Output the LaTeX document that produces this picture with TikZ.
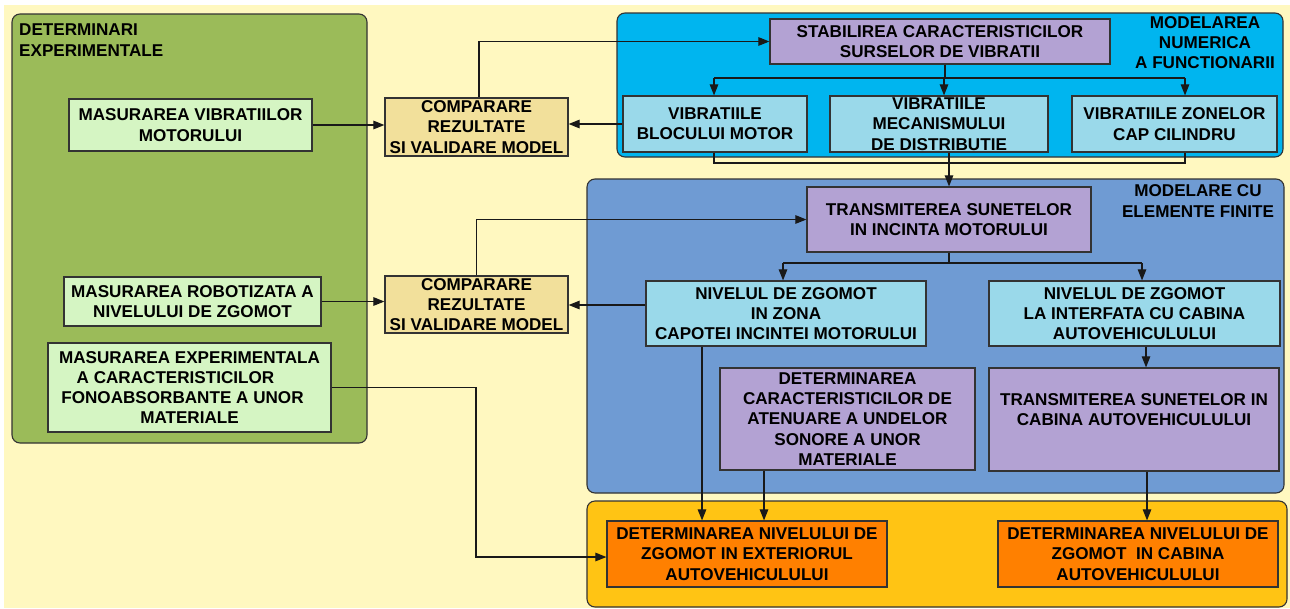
\documentclass[tikz,border=0pt]{standalone}
\usepackage{fontspec}
\setmainfont{Liberation Sans}
\usetikzlibrary{arrows.meta}
\definecolor{cream}{HTML}{FFF8C0}
\definecolor{olivepanel}{HTML}{9BBB59}
\definecolor{lightgreenbox}{HTML}{D5F5C3}
\definecolor{tanbox}{HTML}{F2E09B}
\definecolor{cyanpanel}{HTML}{00B5EF}
\definecolor{lightbluebox}{HTML}{9AD9EA}
\definecolor{lavenderbox}{HTML}{B3A2D3}
\definecolor{bluepanel}{HTML}{6F9BD3}
\definecolor{yellowpanel}{HTML}{FFC414}
\definecolor{orangebox}{HTML}{FF8000}
\definecolor{edge}{HTML}{333333}
\tikzset{
  txt/.style={font=\bfseries\fontsize{17.1}{20.3}\selectfont, text=black},
  panel/.style={draw=edge, line width=1.1pt, rounded corners=8pt},
  box/.style={txt, draw=edge, line width=1.2pt, align=center, inner sep=0pt, anchor=center},
  greenbox/.style={box, fill=lightgreenbox},
  cmpbox/.style={box, fill=tanbox},
  bluebox/.style={box, fill=lightbluebox},
  lavbox/.style={box, fill=lavenderbox},
  orbox/.style={box, fill=orangebox},
  title/.style={txt, inner sep=0pt},
  conn/.style={draw=black!90, line width=1.1pt},
  arr/.style={conn, -{Triangle[length=11pt,width=8.5pt]}},
}
\begin{document}
\begin{tikzpicture}[x=1pt,y=-1pt]
\useasboundingbox (0,0) rectangle (1290,608);
\fill[white] (0,0) rectangle (1290,608);
\fill[cream] (4,5) rectangle (1290,608);

% panels
\filldraw[panel, fill=olivepanel] (12,14) rectangle (367,443);
\filldraw[panel, fill=cyanpanel] (617,13) rectangle (1283,157);
\filldraw[panel, fill=bluepanel] (587,179) rectangle (1284,493);
\filldraw[panel, fill=yellowpanel] (587,501) rectangle (1287,607);

% titles
\node[title, anchor=north west, align=left] (tdet) at (19,24) {DETERMINARI\\EXPERIMENTALE};
\node[title, align=center] (tnum) at (1205,42.5) {MODELAREA\\NUMERICA\\A FUNCTIONARII};
\node[title, align=center] (tfin) at (1198,201) {MODELARE CU\\ELEMENTE FINITE};

% left boxes
\node[greenbox, minimum width=243pt, minimum height=52pt] (mvib) at (190.5,125) {MASURAREA VIBRATIILOR\\MOTORULUI};
\node[greenbox, minimum width=257pt, minimum height=49pt] (mrob) at (192.5,301.5) {MASURAREA ROBOTIZATA A\\NIVELULUI DE ZGOMOT};
\node[greenbox, minimum width=283pt, minimum height=89pt] (mexp) at (189.5,387.5) {MASURAREA EXPERIMENTALA\\A CARACTERISTICILOR\rule{28pt}{0pt}\\FONOABSORBANTE A UNOR\rule{14pt}{0pt}\\MATERIALE};

% compare boxes
\node[cmpbox, minimum width=183pt, minimum height=58pt] (cmp1) at (476.5,127) {COMPARARE\\REZULTATE\\SI VALIDARE MODEL};
\node[cmpbox, minimum width=183pt, minimum height=57pt] (cmp2) at (476.5,304.5) {COMPARARE\\REZULTATE\\SI VALIDARE MODEL};

% numeric modelling
\node[lavbox, minimum width=340pt, minimum height=45pt] (stab) at (940,41.5) {STABILIREA CARACTERISTICILOR\\SURSELOR DE VIBRATII};
\node[bluebox, minimum width=184pt, minimum height=56pt] (vbloc) at (715,124) {VIBRATIILE\\BLOCULUI MOTOR};
\node[bluebox, minimum width=218pt, minimum height=56pt] (vmec) at (939,124) {VIBRATIILE\\MECANISMULUI\\DE DISTRIBUTIE};
\node[bluebox, minimum width=205pt, minimum height=56pt] (vcap) at (1174.5,124) {VIBRATIILE ZONELOR\\CAP CILINDRU};

% finite elements
\node[lavbox, minimum width=284pt, minimum height=65pt] (trinc) at (949,219.5) {TRANSMITEREA SUNETELOR\\IN INCINTA MOTORULUI};
\node[bluebox, minimum width=280pt, minimum height=65pt] (nzona) at (786,313.5) {NIVELUL DE ZGOMOT\\IN ZONA\\CAPOTEI INCINTEI MOTORULUI};
\node[bluebox, minimum width=291pt, minimum height=65pt] (nint) at (1134.5,313.5) {NIVELUL DE ZGOMOT\\LA INTERFATA CU CABINA\\AUTOVEHICULULUI};
\node[lavbox, minimum width=255pt, minimum height=102pt] (dcar) at (847.5,419) {DETERMINAREA\\CARACTERISTICILOR DE\\ATENUARE A UNDELOR\\SONORE A UNOR\\MATERIALE};
\node[lavbox, minimum width=290pt, minimum height=103pt] (trcab) at (1134,419.5) {TRANSMITEREA SUNETELOR IN\\CABINA AUTOVEHICULULUI\\\mbox{}};

% results
\node[orbox, minimum width=280pt, minimum height=66pt] (dext) at (747,554) {DETERMINAREA NIVELULUI DE\\ZGOMOT IN EXTERIORUL\\AUTOVEHICULULUI};
\node[orbox, minimum width=280pt, minimum height=66pt] (dcab) at (1138,554) {DETERMINAREA NIVELULUI DE\\ZGOMOT\ \ IN CABINA\\AUTOVEHICULULUI};

% junction coordinates
\coordinate (c1) at (479,42);
\coordinate (s1) at (945,78);
\coordinate (h1a) at (714,78);
\coordinate (h1m) at (944,78);
\coordinate (h1b) at (1185,78);
\coordinate (b1a) at (714,163);
\coordinate (b1m) at (949,163);
\coordinate (b1b) at (1185,163);
\coordinate (t2) at (949,263);
\coordinate (h2a) at (783,263);
\coordinate (h2b) at (1142,263);
\coordinate (k1) at (1146,0);
\coordinate (k2) at (702,0);
\coordinate (k3) at (764,0);
\coordinate (k4) at (1147,0);
\coordinate (k5) at (476,387);
\coordinate (k6) at (0,305);
\coordinate (k7) at (0,557);

% connectors
\draw[arr] (mvib.east) -- (mvib.east -| cmp1.west);
\draw[arr] (mrob.east) -- (mrob.east -| cmp2.west);
\draw[arr] (vbloc.west) -- (vbloc.west -| cmp1.east);
\draw[arr] (nzona.west |- k6) -- (cmp2.east |- k6);
\draw[arr] (cmp1.north -| c1) -- (stab.west -| c1) -- (stab.west);
\draw[arr] (cmp2.north) -- (cmp2.north |- trinc.west) -- (trinc.west);

\draw[conn] (stab.south -| s1) -- (s1);
\draw[conn] (h1a) -- (h1b);
\draw[arr] (h1a) -- (h1a |- vbloc.north);
\draw[arr] (h1m) -- (h1m |- vmec.north);
\draw[arr] (h1b) -- (h1b |- vcap.north);

\draw[conn] (b1a |- vbloc.south) -- (b1a) -- (b1b) -- (b1b |- vcap.south);
\draw[arr] (b1m |- vmec.south) -- (b1m |- trinc.north);

\draw[conn] (trinc.south -| t2) -- (t2);
\draw[conn] (h2a) -- (h2b);
\draw[arr] (h2a) -- (h2a |- nzona.north);
\draw[arr] (h2b) -- (h2b |- nint.north);

\draw[arr] (nint.south -| k1) -- (trcab.north -| k1);
\draw[arr] (nzona.south -| k2) -- (dext.north -| k2);
\draw[arr] (dcar.south -| k3) -- (dext.north -| k3);
\draw[arr] (trcab.south -| k4) -- (dcab.north -| k4);
\draw[arr] (mexp.east) -- (mexp.east -| k5) -- (k7 -| k5) -- (k7 -| dext.west);
\end{tikzpicture}
\end{document}
